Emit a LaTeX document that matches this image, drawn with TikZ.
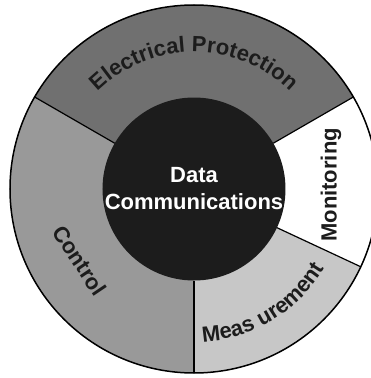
\documentclass[tikz,border=0pt]{standalone}
\usepackage{fontspec}
\setsansfont{Liberation Sans}
\usetikzlibrary{decorations.text}

\definecolor{protgray}{gray}{0.44}
\definecolor{ctrlgray}{gray}{0.60}
\definecolor{measgray}{gray}{0.78}
\definecolor{coregray}{gray}{0.11}
\newcommand\labfont{\sffamily\bfseries\fontsize{22}{27}\selectfont}

\begin{document}
\begin{tikzpicture}[
    lbl/.style={font=\labfont,text=coregray,inner sep=0pt},
    divider/.style={draw=black,line width=1.2pt},
    arctext/.style={decorate,decoration={text along path,text align=center,text={|\labfont\color{coregray}|#1}}}
  ]

  \useasboundingbox (-194pt,-189pt) rectangle (177pt,189pt);
  \clip (-194pt,-189pt) rectangle (177pt,189pt);

  % ring sectors
  \fill[protgray] (0,0) -- (30:184pt)  arc[start angle=30,end angle=150,radius=184pt] -- cycle;
  \fill[ctrlgray] (0,0) -- (150:184pt) arc[start angle=150,end angle=270,radius=184pt] -- cycle;
  \fill[measgray] (0,0) -- (270:184pt) arc[start angle=270,end angle=335,radius=184pt] -- cycle;
  \fill[white]    (0,0) -- (335:184pt) arc[start angle=335,end angle=390,radius=184pt] -- cycle;
  \draw[line width=1.5pt] (0,0) circle[radius=184pt];

  \node [circle,fill=coregray,minimum size=183pt,inner sep=0pt,outer sep=0pt,
         align=center,text=white,font=\labfont] (core) at (0,0) {Data\\Communications};

  \coordinate (rimA) at (30:184pt);
  \coordinate (rimB) at (150:184pt);
  \coordinate (rimC) at (270:184pt);
  \coordinate (rimD) at (335:184pt);

  \path [divider]
    (core.30)  edge (rimA)
    (core.150) edge (rimB)
    (core.270) edge (rimC)
    (core.335) edge (rimD);

  \path [arctext={Electrical Protection}] (150:137pt) arc[start angle=150,end angle=30,radius=137pt];
  \path [arctext={Meas urement}] (270:153pt) arc[start angle=270,end angle=332,radius=153pt];

  \node [lbl,rotate=90]  (mon) at (1.7:137pt) {Monitoring};
  \node [lbl,rotate=-56] (ctl) at (212:135pt) {Control};

\end{tikzpicture}
\end{document}
